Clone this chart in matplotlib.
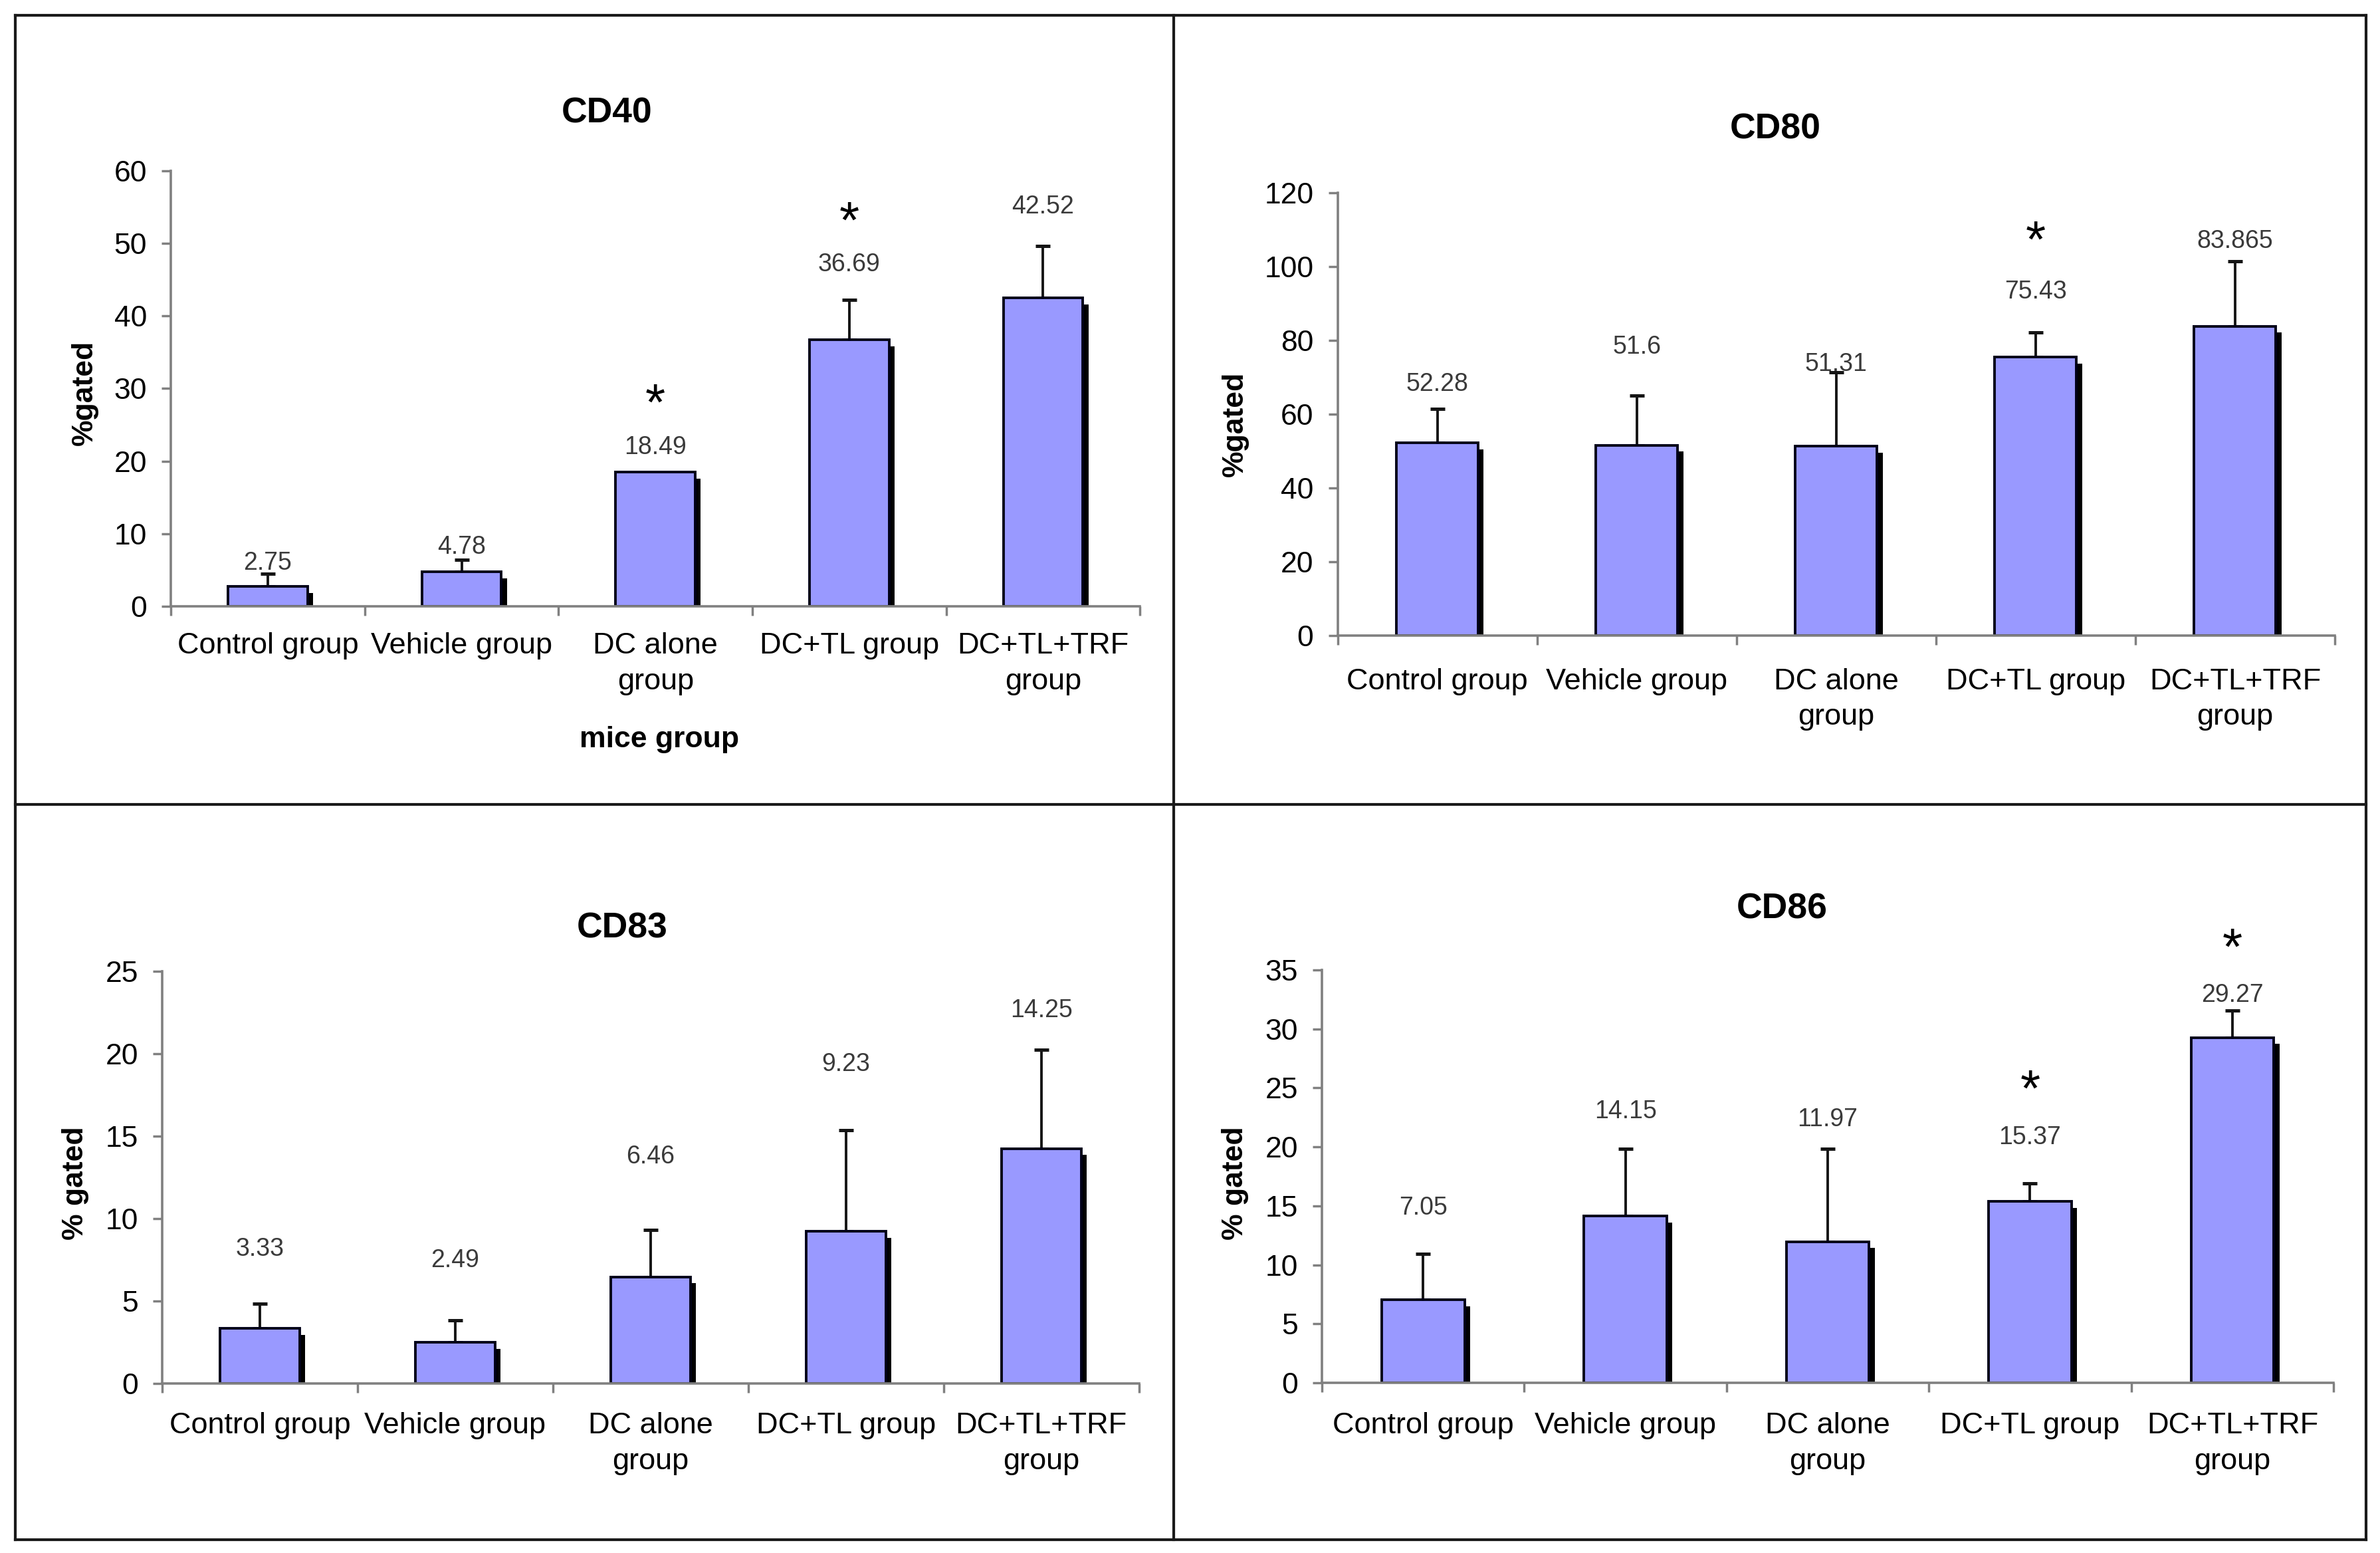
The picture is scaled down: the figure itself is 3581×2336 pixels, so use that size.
import matplotlib
matplotlib.use('Agg')
import matplotlib.pyplot as plt
import numpy as np
from matplotlib.patheffects import SimplePatchShadow, Normal
from matplotlib.lines import Line2D

plt.rcParams['font.family'] = ['Liberation Sans', 'DejaVu Sans']

# ---------------- data ----------------
groups = ['Control group', 'Vehicle group', 'DC alone\ngroup', 'DC+TL group', 'DC+TL+TRF\ngroup']

cd40_mean = [2.75, 4.78, 18.49, 36.69, 42.52]
cd40_err = [1.75, 1.66, 0.0, 5.5, 7.1]
cd40_labels = ['2.75', '4.78', '18.49', '36.69', '42.52']
cd40_label_y = [6.3, 8.5, 22.2, 47.4, 55.4]
cd40_star_y = [None, None, 29.0, 54.1, None]

cd80_mean = [52.28, 51.6, 51.31, 75.43, 83.865]
cd80_err = [9.2, 13.5, 20.0, 6.7, 17.6]
cd80_labels = ['52.28', '51.6', '51.31', '75.43', '83.865']
cd80_label_y = [68.8, 78.9, 74.1, 93.8, 107.5]
cd80_star_y = [None, None, None, 109.2, None]

cd83_mean = [3.33, 2.49, 6.46, 9.23, 14.25]
cd83_err = [1.52, 1.34, 2.86, 6.13, 5.99]
cd83_labels = ['3.33', '2.49', '6.46', '9.23', '14.25']
cd83_label_y = [8.3, 7.6, 13.9, 19.5, 22.75]
cd83_star_y = [None, None, None, None, None]

cd86_mean = [7.05, 14.15, 11.97, 15.37, 29.27]
cd86_err = [3.88, 5.68, 7.86, 1.52, 2.31]
cd86_labels = ['7.05', '14.15', '11.97', '15.37', '29.27']
cd86_label_y = [15.0, 23.2, 22.5, 21.0, 33.05]
cd86_star_y = [None, None, None, 25.5, 37.5]

# ---------------- style ----------------
BAR = '#9999FF'
AXIS_GRAY = '#808080'
FS_TICK = 32.5
FS_YTICK = 32
FS_VAL = 27
FS_TITLE = 38.5
FS_LABEL = 32
FS_STAR = 56

fig = plt.figure(figsize=(35.81, 23.36), dpi=100)
fig.patch.set_facecolor('white')

panels = [
    dict(title='CD40', mean=cd40_mean, err=cd40_err, labels=cd40_labels, label_y=cd40_label_y,
         star_y=cd40_star_y, ymax=60, ystep=10, ylabel='%gated', xpad=28,
         rect=[0.0718, 0.6096, 0.4072, 0.2804], title_xy=(0.255, 0.927),
         ylabel_xy=(0.0355, 0.747), xlabel='mice group', xlabel_xy=(0.277, 0.5236)),
    dict(title='CD80', mean=cd80_mean, err=cd80_err, labels=cd80_labels, label_y=cd80_label_y,
         star_y=cd80_star_y, ymax=120, ystep=20, ylabel='%gated', xpad=35,
         rect=[0.562, 0.5908, 0.419, 0.285], title_xy=(0.746, 0.9167),
         ylabel_xy=(0.519, 0.727), xlabel=None, xlabel_xy=None),
    dict(title='CD83', mean=cd83_mean, err=cd83_err, labels=cd83_labels, label_y=cd83_label_y,
         star_y=cd83_star_y, ymax=25, ystep=5, ylabel='% gated', xpad=31,
         rect=[0.0681, 0.1092, 0.4105, 0.2654], title_xy=(0.2615, 0.402),
         ylabel_xy=(0.0318, 0.238), xlabel=None, xlabel_xy=None),
    dict(title='CD86', mean=cd86_mean, err=cd86_err, labels=cd86_labels, label_y=cd86_label_y,
         star_y=cd86_star_y, ymax=35, ystep=5, ylabel='% gated', xpad=32,
         rect=[0.5554, 0.1096, 0.4251, 0.2659], title_xy=(0.7487, 0.4148),
         ylabel_xy=(0.519, 0.238), xlabel=None, xlabel_xy=None),
]

x = np.arange(len(groups))

for p in panels:
    ax = fig.add_axes(p['rect'])
    bars = ax.bar(x, p['mean'], width=0.41, color=BAR, edgecolor='#000018',
                  linewidth=2.8, zorder=3)
    for b in bars:
        b.set_path_effects([SimplePatchShadow(offset=(6, -7), shadow_rgbFace='black', alpha=1.0),
                            Normal()])
    err = np.array(p['err'])
    mean = np.array(p['mean'])
    has = err > 0
    ax.errorbar(x[has], mean[has], yerr=[np.zeros(has.sum()), err[has]], fmt='none',
                ecolor='#151515', elinewidth=2.8, capsize=8, capthick=3.6, zorder=2)
    for xi, lab, ly in zip(x, p['labels'], p['label_y']):
        ax.annotate(lab, (xi, ly), xytext=(0, -0.358 * FS_VAL), textcoords='offset points',
                    ha='center', va='baseline', fontsize=FS_VAL, color='#3a3a3a',
                    annotation_clip=False)
    for xi, sy in zip(x, p['star_y']):
        if sy is not None:
            ax.annotate('*', (xi, sy), xytext=(0, -0.47 * FS_STAR), textcoords='offset points',
                        ha='center', va='baseline', fontsize=FS_STAR, color='black',
                        annotation_clip=False)

    ax.set_xlim(-0.5, len(groups) - 0.5)
    ax.set_ylim(0, p['ymax'])
    ax.set_yticks(np.arange(0, p['ymax'] + 0.1, p['ystep']))
    ax.set_xticks(x)
    ax.set_xticklabels(groups, fontsize=FS_TICK, linespacing=1.4)
    ax.set_xticks(np.arange(-0.5, len(groups), 1.0), minor=True)
    ax.tick_params(axis='x', which='major', length=0, pad=p['xpad'])
    ax.tick_params(axis='x', which='minor', direction='out', length=10, width=2.5,
                   color=AXIS_GRAY)
    ax.tick_params(axis='y', direction='out', length=10, width=2.5, color=AXIS_GRAY,
                   labelsize=FS_YTICK, pad=16)
    for s in ['top', 'right']:
        ax.spines[s].set_visible(False)
    for s in ['left', 'bottom']:
        ax.spines[s].set_color(AXIS_GRAY)
        ax.spines[s].set_linewidth(2.6)
        ax.spines[s].set_zorder(4)

    ax.set_ylabel(p['ylabel'], fontsize=FS_LABEL, fontweight='bold', va='center')
    ax.yaxis.set_label_coords(p['ylabel_xy'][0], p['ylabel_xy'][1], transform=fig.transFigure)
    if p['xlabel']:
        ax.set_xlabel(p['xlabel'], fontsize=FS_LABEL, fontweight='bold', va='center')
        ax.xaxis.set_label_coords(p['xlabel_xy'][0], p['xlabel_xy'][1], transform=fig.transFigure)
    fig.text(p['title_xy'][0], p['title_xy'][1], p['title'], ha='center', va='center',
             fontsize=FS_TITLE, fontweight='bold')

# panel frames
L, R, T, B = 0.0064, 0.9941, 0.9902, 0.0086
XM, YM = 0.4932, 0.482
frame_kw = dict(color='#1a1a1a', linewidth=3.0, transform=fig.transFigure)
for xs, ys in [([L, R], [T, T]), ([L, R], [B, B]), ([L, L], [B, T]), ([R, R], [B, T]),
               ([XM, XM], [B, T]), ([L, R], [YM, YM])]:
    fig.add_artist(Line2D(xs, ys, **frame_kw))

fig.savefig('out.png', dpi=100, facecolor='white')
